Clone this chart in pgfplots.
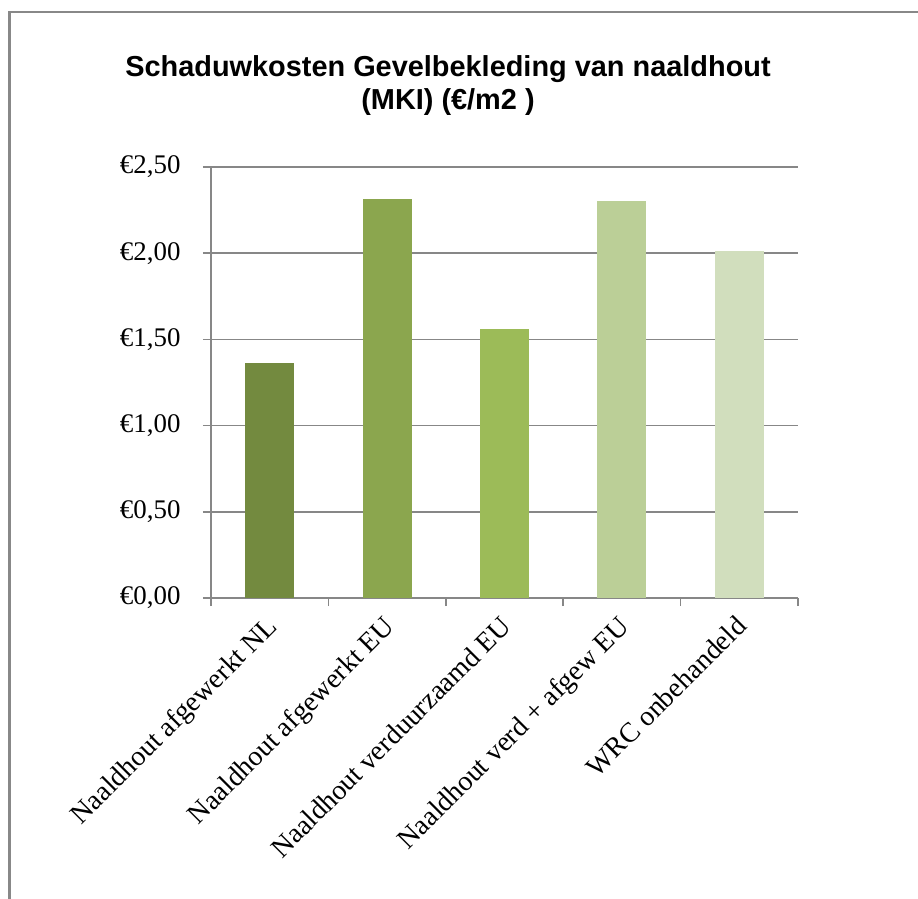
\documentclass[border=0pt]{standalone}
\usepackage{fontspec}
\setmainfont{Liberation Serif}
\newfontfamily\titlefont{Liberation Sans}
\usepackage{pgfplots}
\pgfplotsset{compat=1.18}
\definecolor{frameg}{HTML}{888888}
\definecolor{gridg}{HTML}{878787}
\definecolor{cA}{HTML}{738A3F}
\definecolor{cB}{HTML}{8BA64E}
\definecolor{cC}{HTML}{9CBB58}
\definecolor{cD}{HTML}{BBCF97}
\definecolor{cE}{HTML}{D1DEBD}
\begin{document}
\begin{tikzpicture}
\path[use as bounding box] (0bp,0bp) rectangle (918bp,899bp);
\draw[frameg, line width=2.2bp] (9.5bp,0bp) -- (9.5bp,887bp) -- (918bp,887bp);
\node[font=\titlefont\bfseries\fontsize{29}{33}\selectfont, anchor=base, align=center] at (448bp,822bp) {Schaduwkosten Gevelbekleding van naaldhout};
\node[font=\titlefont\bfseries\fontsize{29}{33}\selectfont, anchor=base, align=center] at (448bp,789bp) {(MKI) (€/m2 )};
\begin{axis}[
  at={(211bp,301bp)}, anchor=south west,
  scale only axis, width=587bp, height=431bp,
  xmin=-0.5, xmax=4.5, ymin=0, ymax=2.5,
  ybar, bar width=49bp, bar shift=0pt,
  axis x line*=bottom, axis y line*=left,
  axis line style={gridg, line width=1.5bp, -},
  ytick={0,0.5,1,1.5,2,2.5},
  yticklabels={{€0,00},{€0,50},{€1,00},{€1,50},{€2,00},{€2,50}},
  ymajorgrids, major grid style={gridg, line width=1.5bp},
  xtick={-0.5,0.5,1.5,2.5,3.5,4.5}, xticklabels={},
  extra x ticks={0,1,2,3,4},
  extra x tick labels={Naaldhout afgewerkt NL, Naaldhout afgewerkt EU, Naaldhout verduurzaamd EU, Naaldhout verd + afgew EU, WRC onbehandeld},
  extra x tick style={major tick length=0pt, tick style={draw=none}, grid=none},
  tick align=outside, major tick length=8bp,
  tick style={gridg, line width=1.5bp},
  yticklabel style={font=\fontsize{27}{30}\selectfont, anchor=east, xshift=-19bp},
  xticklabel style={font=\fontsize{28}{30}\selectfont, xshift=-5bp, yshift=-16bp, rotate=45, anchor=north east, inner sep=0pt},
  clip=false,
]
\addplot[fill=cA, draw=none] coordinates {(0,1.365)};
\addplot[fill=cB, draw=none] coordinates {(1,2.314)};
\addplot[fill=cC, draw=none] coordinates {(2,1.56)};
\addplot[fill=cD, draw=none] coordinates {(3,2.303)};
\addplot[fill=cE, draw=none] coordinates {(4,2.013)};
\end{axis}
\end{tikzpicture}
\end{document}
